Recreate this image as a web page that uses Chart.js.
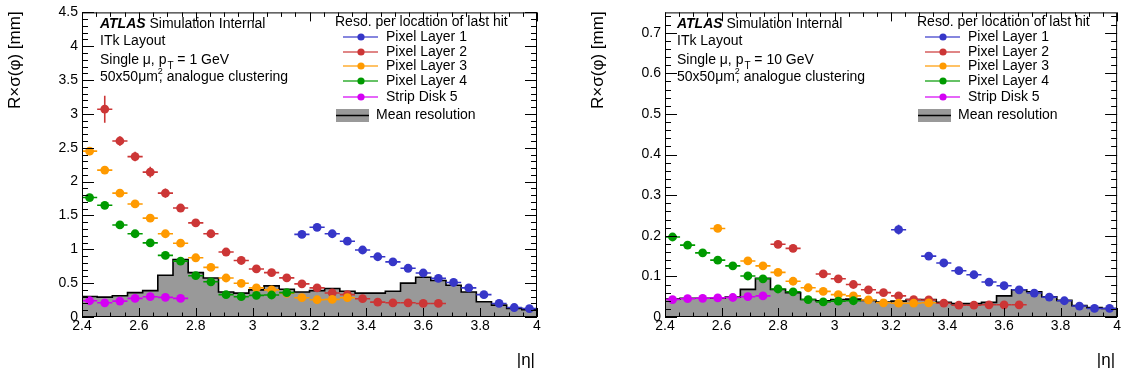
<!DOCTYPE html>
<html>
<head>
<meta charset="utf-8">
<script src="https://cdn.jsdelivr.net/npm/chart.js@4.4.1/dist/chart.umd.min.js"></script>
<style>
  html, body { margin: 0; padding: 0; background: #fff; }
  #wrap { position: relative; width: 1122px; height: 376px; }
  canvas { position: absolute; top: 0; }
</style>
</head>
<body>
<div id="wrap">
  <canvas id="panel-1gev" width="561" height="376" style="left:0"></canvas>
  <canvas id="panel-10gev" width="561" height="376" style="left:561px"></canvas>
</div>
<script>
// |eta| bin centres (30 bins between 2.4 and 4.0)
const etaCenters = [2.4267, 2.48, 2.5333, 2.5867, 2.64, 2.6933, 2.7467, 2.8, 2.8533, 2.9067,
    2.96, 3.0133, 3.0667, 3.12, 3.1733, 3.2267, 3.28, 3.3333, 3.3867, 3.44,
    3.4933, 3.5467, 3.6, 3.6533, 3.7067, 3.76, 3.8133, 3.8667, 3.92, 3.9733];
const binHalfWidth = 0.02667;
const xTickLabels = ['2.4', '2.6', '2.8', '3', '3.2', '3.4', '3.6', '3.8', '4'];

// ---- pT = 1 GeV ----
const pt1_layer1 = [null, null, null, null, null, null, null, null, null, null,
    null, null, null, null, 1.22, 1.325, 1.23, 1.12, 0.99, 0.89,
    0.815, 0.72, 0.65, 0.57, 0.51, 0.43, 0.33, 0.20, 0.14, 0.125];
const pt1_layer2 = [null, 3.07, 2.60, 2.37, 2.14, 1.83, 1.61, 1.39, 1.23, 0.96,
    0.835, 0.71, 0.655, 0.578, 0.49, 0.43, 0.355, 0.33, 0.27, 0.22,
    0.21, 0.21, 0.20, 0.20, null, null, null, null, null, null];
const pt1_layer2_err = [0, 0.2, 0.07, 0.07, 0.08, 0.07, 0.03, 0.03, 0.03, 0, 0, 0, 0, 0, 0, 0, 0, 0, 0, 0, 0, 0, 0, 0];
const pt1_layer3 = [2.45, 2.17, 1.83, 1.67, 1.46, 1.23, 1.09, 0.875, 0.733, 0.576,
    0.498, 0.43, 0.40, 0.35, 0.285, 0.255, 0.26, 0.285, null, null,
    null, null, null, null, null, null, null, null, null, null];
const pt1_layer3_err = [0.06, 0.03, 0.04];
const pt1_layer4 = [1.765, 1.65, 1.36, 1.23, 1.095, 0.91, 0.825, 0.61, 0.52, 0.33,
    0.30, 0.32, 0.325, 0.36, null, null, null, null, null, null,
    null, null, null, null, null, null, null, null, null, null];
const pt1_strip5 = [0.24, 0.21, 0.235, 0.275, 0.30, 0.29, 0.275, null, null, null,
    null, null, null, null, null, null, null, null, null, null,
    null, null, null, null, null, null, null, null, null, null];
const pt1_mean = [0.303, 0.293, 0.313, 0.36, 0.39, 0.616, 0.85, 0.655, 0.577, 0.37,
    0.352, 0.40, 0.46, 0.41, 0.37, 0.39, 0.42, 0.38, 0.352, 0.352,
    0.38, 0.50, 0.587, 0.54, 0.47, 0.37, 0.225, 0.176, 0.127, 0.108];

// ---- pT = 10 GeV ----
const pt10_layer1 = [null, null, null, null, null, null, null, null, null, null,
    null, null, null, null, null, 0.215, null, 0.15, 0.133, 0.114,
    0.104, 0.086, 0.077, 0.067, 0.059, 0.049, 0.040, 0.027, 0.021, 0.021];
const pt10_layer1_err = [0, 0, 0, 0, 0, 0, 0, 0, 0, 0, 0, 0, 0, 0, 0, 0.012];
const pt10_layer2 = [null, null, null, null, null, null, null, 0.179, 0.169, null,
    0.106, 0.094, 0.080, 0.067, 0.060, 0.052, 0.043, 0.042, 0.034, 0.029,
    0.029, 0.030, 0.030, 0.030, null, null, null, null, null, null];
const pt10_layer3 = [null, null, null, 0.218, null, 0.138, 0.126, 0.11, 0.088, 0.072,
    0.063, 0.055, 0.052, 0.042, 0.035, 0.034, 0.034, 0.035, null, null,
    null, null, null, null, null, null, null, null, null, null];
const pt10_layer4 = [0.197, 0.177, 0.158, 0.140, 0.126, 0.101, 0.094, 0.069, 0.062, 0.043,
    0.037, 0.039, 0.040, null, null, null, null, null, null, null,
    null, null, null, null, null, null, null, null, null, null];
const pt10_strip5 = [0.043, 0.045, 0.046, 0.047, 0.048, 0.050, 0.052, null, null, null,
    null, null, null, null, null, null, null, null, null, null,
    null, null, null, null, null, null, null, null, null, null];
const pt10_mean = [0.044, 0.046, 0.046, 0.046, 0.049, 0.068, 0.095, 0.068, 0.060, 0.043,
    0.040, 0.043, 0.044, 0.041, 0.037, 0.039, 0.043, 0.043, 0.036, 0.033,
    0.033, 0.036, 0.052, 0.067, 0.062, 0.050, 0.041, 0.028, 0.023, 0.021];

const seriesNames = ['Pixel Layer 1', 'Pixel Layer 2', 'Pixel Layer 3', 'Pixel Layer 4', 'Strip Disk 5'];
const seriesColors = ['#3636c8', '#cc3636', '#ff9a00', '#009a00', '#d400f4'];
const FONT = '"Liberation Sans", Arial, Helvetica, sans-serif';

function toPoints(values, errs) {
    const pts = [];
    values.forEach((v, i) => {
        if (v === null) return;
        pts.push({ x: etaCenters[i], y: v, e: (errs && errs[i]) || 0 });
    });
    return pts;
}

// left bin edges -> stepped line, plus closing point at the last upper edge
function toHistogram(values) {
    const pts = values.map((v, i) => ({ x: etaCenters[i] - binHalfWidth, y: v }));
    pts.push({ x: etaCenters[etaCenters.length - 1] + binHalfWidth, y: values[values.length - 1] });
    return pts;
}

// horizontal bin-width bars and vertical errors, drawn just before each series' markers
const errorBars = {
    id: 'errorBars',
    beforeDatasetDraw(chart, args) {
        const ds = chart.data.datasets[args.index];
        if (!ds.errorBars) return;
        const { ctx, chartArea } = chart;
        const xs = chart.scales.x, ys = chart.scales.y;
        ctx.save();
        ctx.beginPath();
        ctx.rect(chartArea.left, chartArea.top, chartArea.right - chartArea.left, chartArea.bottom - chartArea.top);
        ctx.clip();
        ctx.strokeStyle = ds.backgroundColor;
        ctx.lineWidth = 1.6;
        ds.data.forEach(p => {
            const py = ys.getPixelForValue(p.y);
            const px = xs.getPixelForValue(p.x);
            ctx.beginPath();
            ctx.moveTo(xs.getPixelForValue(p.x - binHalfWidth), py);
            ctx.lineTo(xs.getPixelForValue(p.x + binHalfWidth), py);
            if (p.e) {
                ctx.moveTo(px, ys.getPixelForValue(p.y - p.e));
                ctx.lineTo(px, ys.getPixelForValue(p.y + p.e));
            }
            ctx.stroke();
        });
        ctx.restore();
    }
};

// ROOT style frame with inward ticks on all four sides
const frameTicks = {
    id: 'frameTicks',
    afterDatasetsDraw(chart) {
        const { ctx, chartArea: a } = chart;
        const o = chart.options.plugins.frameTicks;
        const xs = chart.scales.x, ys = chart.scales.y;
        ctx.save();
        ctx.strokeStyle = '#000';
        ctx.lineWidth = 1;
        ctx.strokeRect(a.left + 0.5, a.top + 0.5, a.right - a.left - 1, a.bottom - a.top - 1);
        ctx.beginPath();
        const nx = Math.round((xs.max - xs.min) / o.xMinor);
        for (let i = 0; i <= nx; i++) {
            const v = xs.min + i * o.xMinor;
            const len = (i % o.xPer === 0) ? o.xMajorLen : o.xMajorLen / 2;
            const px = Math.round(xs.getPixelForValue(v)) + 0.5;
            ctx.moveTo(px, a.bottom); ctx.lineTo(px, a.bottom - len);
            ctx.moveTo(px, a.top); ctx.lineTo(px, a.top + len);
        }
        const ny = Math.floor((ys.max - ys.min) / o.yMinor + 1e-6);
        for (let i = 0; i <= ny; i++) {
            const v = ys.min + i * o.yMinor;
            const len = (i % o.yPer === 0) ? o.yMajorLen : o.yMajorLen / 2;
            const py = Math.round(ys.getPixelForValue(v)) + 0.5;
            ctx.moveTo(a.left, py); ctx.lineTo(a.left + len, py);
            ctx.moveTo(a.right, py); ctx.lineTo(a.right - len, py);
        }
        ctx.stroke();
        ctx.restore();
    }
};

// axis titles, ATLAS label block and the legend
const atlasText = {
    id: 'atlasText',
    afterDraw(chart) {
        const { ctx, chartArea: a } = chart;
        const o = chart.options.plugins.atlasText;
        ctx.save();
        ctx.fillStyle = '#000';
        ctx.textBaseline = 'middle';

        // y title (reads bottom to top, ends at top of frame)
        ctx.save();
        ctx.translate(o.yTitleX, a.top - 1);
        ctx.rotate(-Math.PI / 2);
        ctx.textAlign = 'right';
        ctx.font = '17px ' + FONT;
        ctx.fillText('R×σ(φ) [mm]', 0, 0);
        ctx.restore();

        // x title
        ctx.textAlign = 'right';
        ctx.font = '17px ' + FONT;
        ctx.fillText('|η|', a.right - 2, 360);

        // label block
        ctx.textAlign = 'left';
        const tx = o.textX;
        ctx.font = 'italic bold 14px ' + FONT;
        ctx.fillText('ATLAS', tx, 24);
        let w = ctx.measureText('ATLAS').width;
        ctx.font = '14px ' + FONT;
        ctx.fillText(' Simulation Internal', tx + w, 24);
        ctx.fillText('ITk Layout', tx, 41);
        const s = 'Single μ, p';
        ctx.fillText(s, tx, 60);
        w = ctx.measureText(s).width;
        ctx.font = '10px ' + FONT;
        ctx.fillText('T', tx + w + 1, 66);
        ctx.font = '14px ' + FONT;
        ctx.fillText(' = ' + o.pt + ' GeV', tx + w + 7, 60);
        const m = '50x50μm';
        ctx.fillText(m, tx, 77);
        w = ctx.measureText(m).width;
        ctx.font = '9px ' + FONT;
        ctx.fillText('2', tx + w, 72);
        ctx.font = '14px ' + FONT;
        ctx.fillText(', analogue clustering', tx + w + 1, 77);

        // legend
        const lx = o.legendX;
        ctx.fillText('Reso. per location of last hit', lx, 22);
        const rows = [37, 52, 66, 81, 97];
        seriesNames.forEach((name, i) => {
            const y = rows[i];
            ctx.strokeStyle = seriesColors[i];
            ctx.globalAlpha = 0.8;
            ctx.lineWidth = 1.6;
            ctx.beginPath();
            ctx.moveTo(lx + 8, y); ctx.lineTo(lx + 43, y);
            ctx.stroke();
            ctx.globalAlpha = 1;
            ctx.fillStyle = seriesColors[i];
            ctx.beginPath();
            ctx.arc(lx + 26, y, 3.6, 0, Math.PI * 2);
            ctx.fill();
            ctx.fillStyle = '#000';
            ctx.fillText(name, lx + 51, y);
        });
        ctx.fillStyle = '#999';
        ctx.fillRect(lx + 1, 109, 33, 13);
        ctx.strokeStyle = '#000';
        ctx.lineWidth = 1.5;
        ctx.beginPath();
        ctx.moveTo(lx + 1, 115.5); ctx.lineTo(lx + 34, 115.5);
        ctx.stroke();
        ctx.fillStyle = '#000';
        ctx.fillText('Mean resolution', lx + 41, 115);
        ctx.restore();
    }
};

function makePanel(canvasId, cfg) {
    const series = cfg.series.map((vals, i) => ({
        type: 'scatter',
        label: seriesNames[i],
        data: toPoints(vals, cfg.errors[i]),
        backgroundColor: seriesColors[i],
        borderWidth: 0,
        pointRadius: 4.4,
        pointHoverRadius: 4.4,
        errorBars: true,
        order: 5 - i,
        clip: false,
    }));
    const mean = {
        type: 'line',
        label: 'Mean resolution',
        data: toHistogram(cfg.mean),
        stepped: 'before',
        borderColor: '#000',
        borderWidth: 1.6,
        backgroundColor: '#999999',
        fill: 'origin',
        pointRadius: 0,
        order: 10,
    };

    return new Chart(document.getElementById(canvasId), {
        type: 'scatter',
        data: { datasets: [...series, mean] },
        plugins: [errorBars, frameTicks, atlasText],
        options: {
            responsive: false,
            animation: false,
            devicePixelRatio: 1,
            layout: { padding: { top: 10, right: cfg.padRight, bottom: 0, left: 0 } },
            scales: {
                x: {
                    type: 'linear',
                    min: 2.4,
                    max: 4.0,
                    grid: { display: false, drawTicks: false },
                    border: { display: false },
                    ticks: {
                        stepSize: 0.2,
                        autoSkip: false,
                        maxRotation: 0,
                        padding: 1,
                        color: '#000',
                        font: { family: FONT, size: 14 },
                        callback: (v, idx) => xTickLabels[idx],
                    },
                    afterFit: s => { s.height = 59; },
                },
                y: {
                    min: 0,
                    max: cfg.yMax,
                    grid: { display: false, drawTicks: false },
                    border: { display: false },
                    ticks: {
                        stepSize: cfg.yStep,
                        includeBounds: false,
                        padding: 4,
                        color: '#000',
                        font: { family: FONT, size: 14 },
                        callback: v => String(+v.toFixed(2)),
                    },
                    afterFit: s => { s.width = cfg.yWidth; },
                },
            },
            plugins: {
                legend: { display: false },
                tooltip: { enabled: false },
                frameTicks: { xMinor: 0.05, xPer: 4, xMajorLen: 9, yMinor: cfg.yStep / 5, yPer: 5, yMajorLen: 12 },
                atlasText: { pt: cfg.pt, textX: cfg.textX, legendX: cfg.legendX, yTitleX: cfg.yTitleX },
            },
        },
    });
}

makePanel('panel-1gev', {
    series: [pt1_layer1, pt1_layer2, pt1_layer3, pt1_layer4, pt1_strip5],
    errors: [null, pt1_layer2_err, pt1_layer3_err, null, null],
    mean: pt1_mean,
    yMax: 4.5,
    yStep: 0.5,
    yWidth: 82,
    padRight: 24,
    pt: 1,
    textX: 100,
    legendX: 335,
    yTitleX: 15,
});

makePanel('panel-10gev', {
    series: [pt10_layer1, pt10_layer2, pt10_layer3, pt10_layer4, pt10_strip5],
    errors: [pt10_layer1_err, null, null, null, null],
    mean: pt10_mean,
    yMax: 0.75,
    yStep: 0.1,
    yWidth: 104,
    padRight: 3,
    pt: 10,
    textX: 116,
    legendX: 356,
    yTitleX: 37,
});
</script>
</body>
</html>
